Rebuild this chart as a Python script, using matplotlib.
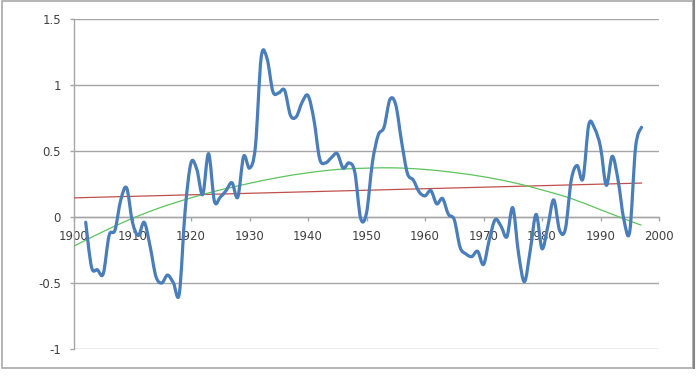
import numpy as np
import matplotlib
matplotlib.use("Agg")
import matplotlib.pyplot as plt
from matplotlib.path import Path
from matplotlib.patches import PathPatch, Rectangle

# ---- data ----
years = list(range(1902, 1998))
values = [
    -0.04, -0.38, -0.40, -0.43, -0.14, -0.10, 0.13, 0.22, -0.04,          # 1902-1910
    -0.14, -0.04, -0.22, -0.45, -0.50, -0.44, -0.50, -0.58, 0.05, 0.41,   # 1911-1920
    0.36, 0.17, 0.48, 0.12, 0.15, 0.20, 0.26, 0.15, 0.46, 0.37,           # 1921-1930
    0.53, 1.21, 1.20, 0.95, 0.94, 0.96, 0.77, 0.76, 0.87, 0.92,           # 1931-1940
    0.74, 0.44, 0.41, 0.45, 0.48, 0.37, 0.41, 0.34, -0.01, 0.03,          # 1941-1950
    0.41, 0.62, 0.68, 0.89, 0.85, 0.57, 0.33, 0.28, 0.19, 0.16,           # 1951-1960
    0.20, 0.10, 0.14, 0.02, -0.02, -0.23, -0.28, -0.30, -0.26, -0.36,     # 1961-1970
    -0.17, -0.02, -0.07, -0.15, 0.07, -0.28, -0.49, -0.25, 0.02, -0.24,   # 1971-1980
    -0.07, 0.13, -0.10, -0.09, 0.28, 0.39, 0.29, 0.70, 0.67, 0.53,        # 1981-1990
    0.24, 0.46, 0.28, -0.02, -0.11, 0.53, 0.68,                           # 1991-1997
]

linear_years = [1900, 1997]
linear_values = [0.145, 0.257]

poly_years = [1900, 1905, 1910, 1915, 1920, 1925, 1930, 1935, 1940, 1945, 1950,
              1955, 1960, 1965, 1970, 1975, 1980, 1985, 1990, 1995, 1997]
poly_values = [-0.22, -0.11, -0.01, 0.075, 0.145, 0.205, 0.255, 0.30, 0.335, 0.36, 0.37,
               0.372, 0.36, 0.337, 0.305, 0.262, 0.205, 0.14, 0.055, -0.03, -0.062]

x_ticks = list(range(1900, 2001, 10))
y_ticks = [-1, -0.5, 0, 0.5, 1, 1.5]
y_labels = ["-1", "-0.5", "0", "0.5", "1", "1.5"]


def smooth_path(xs, ys):
    """Excel-like smoothed line: Catmull-Rom converted to cubic Bezier."""
    xs = np.asarray(xs, float)
    ys = np.asarray(ys, float)
    pts = np.column_stack([xs, ys])
    n = len(pts)
    verts = [pts[0]]
    codes = [Path.MOVETO]
    for i in range(n - 1):
        p0 = pts[i - 1] if i > 0 else pts[i]
        p1 = pts[i]
        p2 = pts[i + 1]
        p3 = pts[i + 2] if i + 2 < n else pts[i + 1]
        c1 = p1 + (p2 - p0) / 6.0
        c2 = p2 - (p3 - p1) / 6.0
        verts += [c1, c2, p2]
        codes += [Path.CURVE4] * 3
    return Path(verts, codes)


plt.rcParams['font.family'] = ['DejaVu Sans']
fig = plt.figure(figsize=(6.96, 3.90), dpi=100)
W, H = 696.0, 390.0
ax = fig.add_axes([74 / W, 1 - 349 / H, (659 - 74) / W, (349 - 19) / H])

grid_c = "#a6a6a6"
text_c = "#404040"

ax.set_xlim(1900, 2000)
ax.set_ylim(-1, 1.5)
ax.set_yticks(y_ticks)
ax.set_yticklabels(y_labels)
ax.set_xticks(x_ticks)

ax.yaxis.grid(True, color=grid_c, linewidth=1.0)
ax.set_axisbelow(True)

for s in ["top", "right"]:
    ax.spines[s].set_visible(False)
ax.spines["left"].set_color(grid_c)
ax.spines["left"].set_linewidth(1.0)
ax.spines["bottom"].set_position(("data", 0))
ax.spines["bottom"].set_color(grid_c)
ax.spines["bottom"].set_linewidth(1.0)

ax.tick_params(axis="y", direction="out", length=3, width=1.0, color=grid_c,
               labelsize=8.5, labelcolor=text_c, pad=6.5)
ax.tick_params(axis="x", direction="out", length=3, width=1.0, color=grid_c,
               labelsize=8.5, labelcolor=text_c, pad=6.0)

# trend lines
ax.plot(linear_years, linear_values, color="#c0504d", linewidth=0.9, zorder=3)
ax.add_patch(PathPatch(smooth_path(poly_years, poly_values), fill=False,
                       edgecolor="#5cc45c", linewidth=0.9, zorder=3))

# main smoothed series
ax.add_patch(PathPatch(smooth_path(years, values), fill=False,
                       edgecolor="#4a7ebb", linewidth=2.3, zorder=4,
                       joinstyle="round", capstyle="round"))

# outer chart border
fig.add_artist(Rectangle((2 / W, 1 - 368 / H), (693 - 2) / W, (368 - 1) / H,
                         transform=fig.transFigure, fill=False,
                         edgecolor="#a8a8a8", linewidth=1.2))
fig.add_artist(plt.Line2D([694 / W, 694 / W], [1 - 368 / H, 1 - 1 / H],
                          transform=fig.transFigure, color="#858585", linewidth=1.5))

fig.savefig("out.png", dpi=100)
